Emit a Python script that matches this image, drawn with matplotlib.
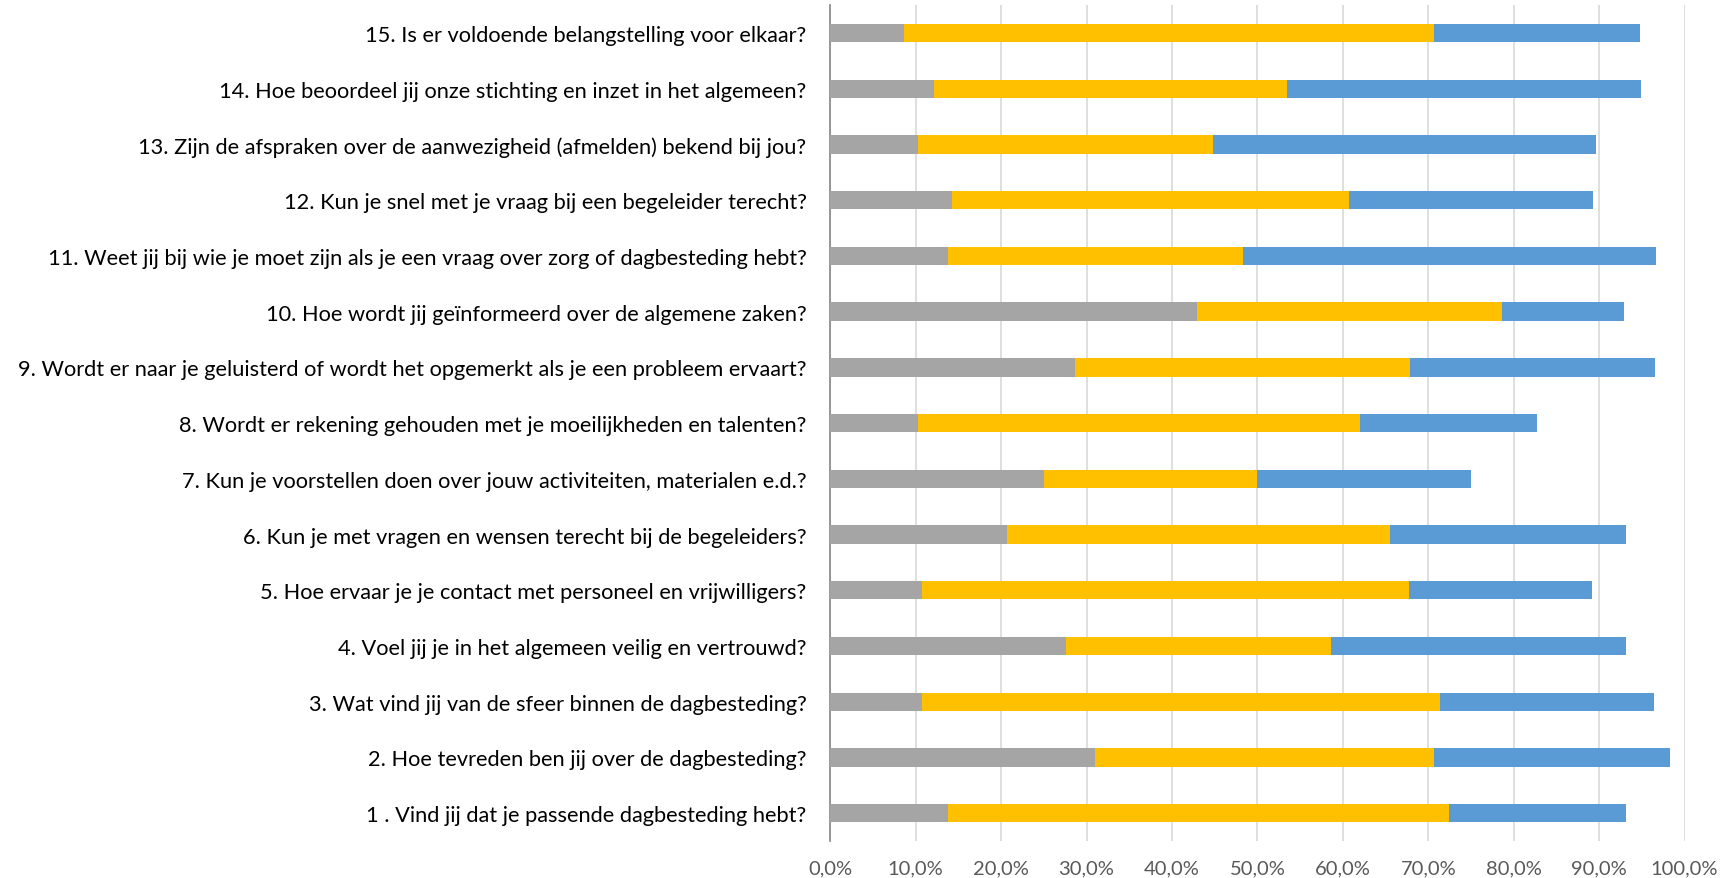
import numpy as np
import matplotlib
matplotlib.use('Agg')
import matplotlib.pyplot as plt
from matplotlib.ticker import FuncFormatter

# questions, bottom (1) to top (15)
questions = [
    "1 . Vind jij dat je passende dagbesteding hebt?",
    "2. Hoe tevreden ben jij over de dagbesteding?",
    "3. Wat vind jij van de sfeer binnen de dagbesteding?",
    "4. Voel jij je in het algemeen veilig en vertrouwd?",
    "5. Hoe ervaar je je contact met personeel en vrijwilligers?",
    "6. Kun je met vragen en wensen terecht bij de begeleiders?",
    "7. Kun je voorstellen doen over jouw activiteiten, materialen e.d.?",
    "8. Wordt er rekening gehouden met je moeilijkheden en talenten?",
    "9. Wordt er naar je geluisterd of wordt het opgemerkt als je een probleem ervaart?",
    "10. Hoe wordt jij geïnformeerd over de algemene zaken?",
    "11. Weet jij bij wie je moet zijn als je een vraag over zorg of dagbesteding hebt?",
    "12. Kun je snel met je vraag bij een begeleider terecht?",
    "13. Zijn de afspraken over de aanwezigheid (afmelden) bekend bij jou?",
    "14. Hoe beoordeel jij onze stichting en inzet in het algemeen?",
    "15. Is er voldoende belangstelling voor elkaar?",
]

# segment shares (fractions)
grey = [0.138, 0.310, 0.107, 0.276, 0.107, 0.207, 0.250, 0.103, 0.286, 0.429,
        0.138, 0.143, 0.103, 0.121, 0.086]
yellow = [0.586, 0.397, 0.607, 0.310, 0.571, 0.448, 0.250, 0.517, 0.393, 0.357,
          0.345, 0.464, 0.345, 0.414, 0.621]
blue = [0.207, 0.276, 0.250, 0.345, 0.214, 0.276, 0.250, 0.207, 0.286, 0.143,
        0.483, 0.286, 0.448, 0.414, 0.241]

x_ticks = np.arange(0, 1.01, 0.1)

plt.rcParams['font.family'] = ['Lato', 'DejaVu Sans']

fig = plt.figure(figsize=(17.26, 8.79), dpi=100)
ax = fig.add_axes([0.481, 0.042, 0.495, 0.951])

y = np.arange(len(questions))
g = np.array(grey)
yl = np.array(yellow)
b = np.array(blue)
h = 0.33
ax.barh(y, g, height=h, color='#A5A5A5', zorder=3)
ax.barh(y, yl, left=g, height=h, color='#FFC000', zorder=3)
ax.barh(y, b, left=g + yl, height=h, color='#5B9BD5', zorder=3)

ax.set_ylim(-0.5, len(questions) - 0.5)
ax.set_xlim(0, 1.0)
ax.set_yticks(y)
ax.set_yticklabels(questions, fontsize=15.7, color='#000000')
ax.set_xticks(x_ticks)
ax.xaxis.set_major_formatter(FuncFormatter(lambda v, p: f"{v*100:.1f}%".replace('.', ',')))
ax.tick_params(axis='x', labelsize=14.5, colors='#595959', length=0, pad=13)
ax.tick_params(axis='y', length=0, pad=17)

ax.grid(axis='x', color='#D9D9D9', linewidth=1.2, zorder=0)
for side in ['top', 'right', 'bottom']:
    ax.spines[side].set_visible(False)
ax.spines['left'].set_color('#868686')
ax.spines['left'].set_linewidth(1.2)

fig.savefig('out.png', dpi=100, facecolor='white')
